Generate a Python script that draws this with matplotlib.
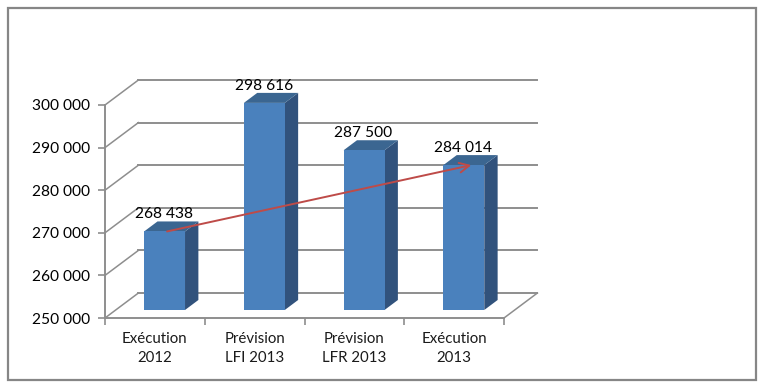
import matplotlib
matplotlib.use('Agg')
import matplotlib.pyplot as plt
from matplotlib.patches import Polygon, Rectangle

categories = ['Exécution\n2012', 'Prévision\nLFI 2013', 'Prévision\nLFR 2013', 'Exécution\n2013']
values = [268438, 298616, 287500, 284014]
value_labels = ['268 438', '298 616', '287 500', '284 014']
y_ticks = [250000, 260000, 270000, 280000, 290000, 300000]
y_tick_labels = ['250 000', '260 000', '270 000', '280 000', '290 000', '300 000']

W, H = 762, 386
GRID = '#8e8e8e'
DEPTH_X = 0.335
DEPTH_Y = 5870
BAR_WIDTH = 0.41

plt.rcParams['font.family'] = ['Lato', 'DejaVu Sans']


def project(x, v, d):
    # fake 3d: depth d (0 front, 1 back) shifts a point right and up
    return x + d * DEPTH_X, v + d * DEPTH_Y


def draw_bar(ax, i, value):
    x0 = i + 0.5 - BAR_WIDTH / 2 - 0.01
    x1 = x0 + BAR_WIDTH
    d0, d1 = 0.32, 0.72
    base = y_ticks[0]
    front = [project(x0, base, d0), project(x1, base, d0), project(x1, value, d0), project(x0, value, d0)]
    side = [project(x1, base, d0), project(x1, base, d1), project(x1, value, d1), project(x1, value, d0)]
    top = [project(x0, value, d0), project(x1, value, d0), project(x1, value, d1), project(x0, value, d1)]
    ax.add_patch(Polygon(side, fc='#31527c', ec='none', zorder=3, clip_on=False))
    ax.add_patch(Polygon(top, fc='#3b6691', ec='none', zorder=3, clip_on=False))
    ax.add_patch(Polygon(front, fc='#4a81bd', ec='none', zorder=4, clip_on=False))


fig = plt.figure(figsize=(W / 100, H / 100), dpi=100)
ax = fig.add_axes([105 / W, 1 - 318 / H, 399 / W, 213 / H])
ax.set_xlim(0, 4)
ax.set_ylim(y_ticks[0], y_ticks[-1])
ax.patch.set_alpha(0)

# wall and floor lines
for v in y_ticks:
    xa, ya = project(0, v, 0)
    xb, yb = project(0, v, 1)
    xc, yc = project(4, v, 1)
    ax.plot([xa, xb], [ya, yb], color=GRID, lw=1.1, clip_on=False, zorder=1)
    ax.plot([xb, xc], [yb, yc], color=GRID, lw=1.4, clip_on=False, zorder=1)
xa, ya = project(4, y_ticks[0], 0)
xb, yb = project(4, y_ticks[0], 1)
ax.plot([xa, xb], [ya, yb], color=GRID, lw=1.1, clip_on=False, zorder=1)

for i, v in enumerate(values):
    draw_bar(ax, i, v)
    x, y = project(i + 0.5, v, 0.72)
    ax.annotate(value_labels[i], (x - 0.15, y), xytext=(0, 0), textcoords='offset points',
                ha='center', va='bottom', fontsize=11.2, color='black', zorder=6, annotation_clip=False)

# trend arrow, first to last bar
start = project(0.515, values[0], 0.32)
end = project(3.565, values[-1], 0.32)
ax.annotate('', xy=end, xytext=start, zorder=5, annotation_clip=False,
            arrowprops=dict(arrowstyle='->,head_length=0.7,head_width=0.35', color='#be4b48', lw=1.4,
                            shrinkA=0, shrinkB=0))

for name in ['top', 'right']:
    ax.spines[name].set_visible(False)
for name in ['left', 'bottom']:
    ax.spines[name].set_color(GRID)
    ax.spines[name].set_linewidth(1.4)

ax.set_yticks(y_ticks)
ax.set_yticklabels(y_tick_labels, fontsize=11.2, color='black')
ax.set_xticks([0, 1, 2, 3, 4])
ax.set_xticklabels([])
ax.set_xticks([0.5, 1.5, 2.5, 3.5], minor=True)
ax.set_xticklabels(categories, minor=True, fontsize=10.8, color='#1a1a1a', linespacing=1.5)
ax.tick_params(axis='y', length=5, width=1.2, color=GRID, pad=6)
ax.tick_params(axis='x', which='major', length=5, width=1.2, color=GRID)
ax.tick_params(axis='x', which='minor', length=0, pad=10)

# outer frame
fig.add_artist(Rectangle((7.5 / W, 1 - 379.5 / H), 748 / W, 372 / H, transform=fig.transFigure,
                         fc='none', ec='#868686', lw=1.6))

fig.savefig('out.png', dpi=100)
